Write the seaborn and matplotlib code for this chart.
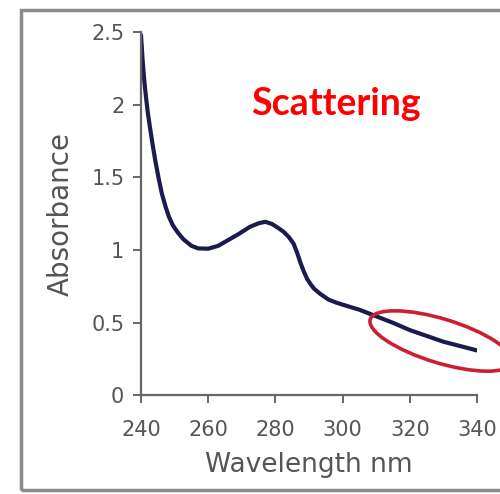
import matplotlib
matplotlib.use("Agg")
import matplotlib.pyplot as plt
import seaborn as sns
import pandas as pd
from matplotlib.patches import Ellipse, Rectangle
from matplotlib.transforms import IdentityTransform

wavelength = [240, 240.5, 241, 241.5, 242, 242.7, 243.5, 244.3, 245.2, 246.2,
              247.3, 248.3, 249.5, 251, 252.6, 255, 257, 260, 263, 266, 269,
              272.4, 275, 277, 279, 281, 282.4, 284, 285.4, 286.5, 287.5,
              288.5, 289.5, 290.5, 291.5, 293.3, 295.8, 298, 300, 305, 310,
              315, 320, 325, 330, 335, 340]
absorbance = [2.48, 2.3, 2.16, 2.05, 1.95, 1.84, 1.72, 1.61, 1.5, 1.39,
              1.3, 1.23, 1.17, 1.12, 1.075, 1.03, 1.012, 1.01, 1.03, 1.07,
              1.11, 1.16, 1.185, 1.195, 1.18, 1.15, 1.127, 1.09, 1.045, 0.98,
              0.91, 0.85, 0.80, 0.765, 0.735, 0.70, 0.66, 0.64, 0.625, 0.59,
              0.545, 0.5, 0.45, 0.41, 0.37, 0.34, 0.31]
x_ticks = [240, 260, 280, 300, 320, 340]
y_ticks = [0, 0.5, 1, 1.5, 2, 2.5]
y_tick_labels = ["0", "0.5", "1", "1.5", "2", "2.5"]

sns.set_theme(style="white")
plt.rcParams['font.family'] = ['DejaVu Sans']

df = pd.DataFrame({"Wavelength": wavelength, "Absorbance": absorbance})

fig = plt.figure(figsize=(5.0, 4.94), dpi=100)
ax = fig.add_axes([0.282, 0.1994, 0.672, 0.7356])
sns.lineplot(data=df, x="Wavelength", y="Absorbance", ax=ax,
             color="#1c1b4f", linewidth=3.0)
ax.lines[0].set_solid_joinstyle("round")
ax.set_xlim(240, 340)
ax.set_ylim(0, 2.5)
ax.set_xticks(x_ticks)
ax.set_yticks(y_ticks)
ax.set_yticklabels(y_tick_labels)
for s in ["top", "right"]:
    ax.spines[s].set_visible(False)
for s in ["left", "bottom"]:
    ax.spines[s].set_color("#666666")
    ax.spines[s].set_linewidth(1.6)
ax.tick_params(axis="both", direction="out", length=6, width=1.4,
               color="#666666", labelsize=15, labelcolor="#555555",
               left=True, bottom=True)
ax.tick_params(axis="x", pad=12)
ax.tick_params(axis="y", pad=6)
ax.set_xlabel("Wavelength nm", fontsize=19, color="#555555", labelpad=8)
ax.set_ylabel("Absorbance", fontsize=20, color="#555555", labelpad=12)

# red annotation ellipse (pixel coordinates, origin bottom-left)
ell = Ellipse((441, 494 - 341), width=148, height=44, angle=-17,
              transform=IdentityTransform(), fill=False,
              edgecolor="#cc2030", linewidth=2.6, clip_on=False)
fig.add_artist(ell)

fig.text(251 / 500, 1 - 115 / 494, "Scattering", color="#ff0000",
         fontsize=27, fontweight="bold", family=["Lato", "DejaVu Sans"],
         ha="left", va="baseline")

# outer frame
frame = Rectangle((21 / 500, 4 / 494), 1.2, 480 / 494,
                  transform=fig.transFigure, fill=False,
                  edgecolor="#8a8a8a", linewidth=2.5, clip_on=False)
fig.add_artist(frame)

fig.savefig("out.png", dpi=100)
